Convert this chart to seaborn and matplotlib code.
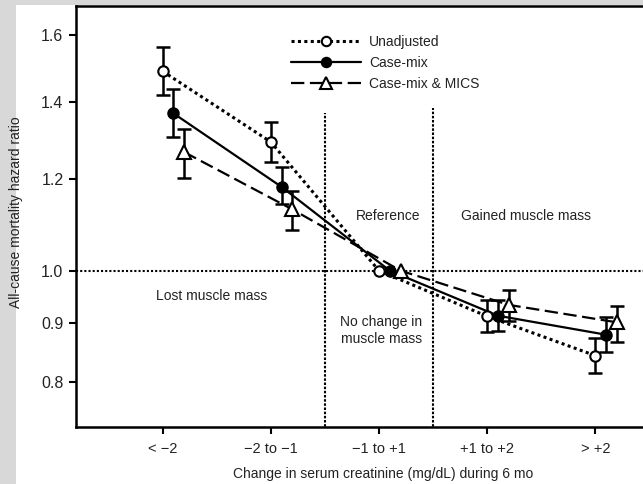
import numpy as np
import pandas as pd
import matplotlib
matplotlib.use("Agg")
import matplotlib.pyplot as plt
from matplotlib.ticker import FixedLocator, NullLocator, FixedFormatter
from matplotlib.lines import Line2D
from matplotlib.patches import Rectangle
import seaborn as sns

categories = ["< \u22122", "\u22122 to \u22121", "\u22121 to +1", "+1 to +2", "> +2"]
series = ["Unadjusted", "Case-mix", "Case-mix & MICS"]

unadj_hr = [1.489, 1.293, 1.000, 0.913, 0.844]
unadj_lo = [1.420, 1.243, 1.000, 0.884, 0.816]
unadj_hi = [1.563, 1.346, 1.000, 0.944, 0.875]

casemix_hr = [1.369, 1.182, 1.000, 0.914, 0.880]
casemix_lo = [1.306, 1.142, 1.000, 0.886, 0.851]
casemix_hi = [1.438, 1.230, 1.000, 0.944, 0.911]

mics_hr = [1.267, 1.130, 1.000, 0.934, 0.902]
mics_lo = [1.203, 1.085, 1.000, 0.905, 0.867]
mics_hi = [1.327, 1.172, 1.000, 0.963, 0.932]

y_ticks = [0.8, 0.9, 1.0, 1.2, 1.4, 1.6]
y_tick_labels = ["0.8", "0.9", "1.0", "1.2", "1.4", "1.6"]

sns.set_theme(style="white")
plt.rcParams["font.family"] = ["Liberation Sans", "DejaVu Sans"]

fig = plt.figure(figsize=(6.43, 4.84), dpi=100)
fig.patch.set_facecolor("#d8d8d8")
fig.patches.append(Rectangle((16 / 643, 0), 1, 1 - 5 / 484, transform=fig.transFigure,
                             facecolor="white", edgecolor="none", zorder=-10))
ax = fig.add_axes([76 / 643, 57 / 484, 1 - 76 / 643, (427 - 6) / 484])
ax.set_facecolor("white")

styles = {
    "Unadjusted": dict(offset=0.0, ls=(0, (1, 1.1)), marker="o", mfc="white", ms=7.5, lw=2.2),
    "Case-mix": dict(offset=0.1, ls="-", marker="o", mfc="black", ms=7.5, lw=1.6),
    "Case-mix & MICS": dict(offset=0.2, ls=(0, (6, 2.5)), marker="^", mfc="white", ms=10, lw=1.6),
}
data = {
    "Unadjusted": (unadj_hr, unadj_lo, unadj_hi),
    "Case-mix": (casemix_hr, casemix_lo, casemix_hi),
    "Case-mix & MICS": (mics_hr, mics_lo, mics_hi),
}

# reference lines
ax.axhline(1.0, color="black", lw=1.5, ls=(0, (1, 1)), zorder=1)
ax.vlines([1.5, 2.5], 0.5, [1.37, 1.383], color="black", lw=1.5, ls=(0, (1.2, 0.8)), zorder=1)

handles = []
for name in series:
    st = styles[name]
    hr, lo, hi = data[name]
    x = np.arange(len(categories)) + st["offset"]
    df = pd.DataFrame({"x": x, "hr": hr})
    sns.lineplot(data=df, x="x", y="hr", ax=ax, color="black", lw=st["lw"],
                 linestyle=st["ls"], zorder=3, legend=False)
    hr_a, lo_a, hi_a = np.array(hr), np.array(lo), np.array(hi)
    mask = hi_a > lo_a
    ax.errorbar(x[mask], hr_a[mask], yerr=[hr_a[mask] - lo_a[mask], hi_a[mask] - hr_a[mask]],
                fmt="none", ecolor="black", elinewidth=1.8, capsize=5, capthick=1.8, zorder=4)
    ax.plot(x, hr, ls="none", marker=st["marker"], mfc=st["mfc"], mec="black",
            mew=1.5, ms=st["ms"], zorder=5)
    handles.append(Line2D([0], [0], color="black", lw=st["lw"], linestyle=st["ls"],
                          marker=st["marker"], mfc=st["mfc"], mec="black", mew=1.5,
                          ms=st["ms"] * 0.9))

ax.set_yscale("log")
ax.set_ylim(0.732, 1.696)
ax.set_xlim(-0.8, 4.44)
ax.yaxis.set_major_locator(FixedLocator(y_ticks))
ax.yaxis.set_major_formatter(FixedFormatter(y_tick_labels))
ax.yaxis.set_minor_locator(NullLocator())
ax.set_xticks(range(len(categories)))
ax.set_xticklabels(categories)

ax.tick_params(axis="both", which="major", direction="out", length=5, width=1.5,
               color="black", labelcolor="#222222", bottom=True, left=True)
ax.tick_params(axis="x", pad=6, labelsize=10.5)
ax.tick_params(axis="y", pad=4, labelsize=11.5)
for side in ["left", "bottom", "top"]:
    ax.spines[side].set_visible(True)
    ax.spines[side].set_color("black")
    ax.spines[side].set_linewidth(1.8)
ax.spines["right"].set_visible(False)

ax.set_xlabel("Change in serum creatinine (mg/dL) during 6 mo", fontsize=10, color="#222222")
ax.xaxis.set_label_coords(0.541, -0.095)
ax.set_ylabel("All-cause mortality hazard ratio", fontsize=10, color="#222222")
ax.yaxis.set_label_coords(-0.0935, 0.51)

ax.text(2.08, 1.116, "Reference", ha="center", va="center", fontsize=10, color="#222222")
ax.text(3.36, 1.116, "Gained muscle mass", ha="center", va="center", fontsize=10, color="#222222")
ax.text(0.45, 0.951, "Lost muscle mass", ha="center", va="center", fontsize=10, color="#222222")
ax.text(2.02, 0.887, "No change in\nmuscle mass", ha="center", va="center", fontsize=10,
        color="#222222", linespacing=1.3)

leg = ax.legend(handles, series, loc="upper left", bbox_to_anchor=(0.358, 0.96), frameon=False,
                fontsize=10, handlelength=5.0, labelspacing=0.5, handletextpad=0.6,
                labelcolor="#222222")

fig.savefig("out.png", dpi=100, facecolor=fig.get_facecolor())
